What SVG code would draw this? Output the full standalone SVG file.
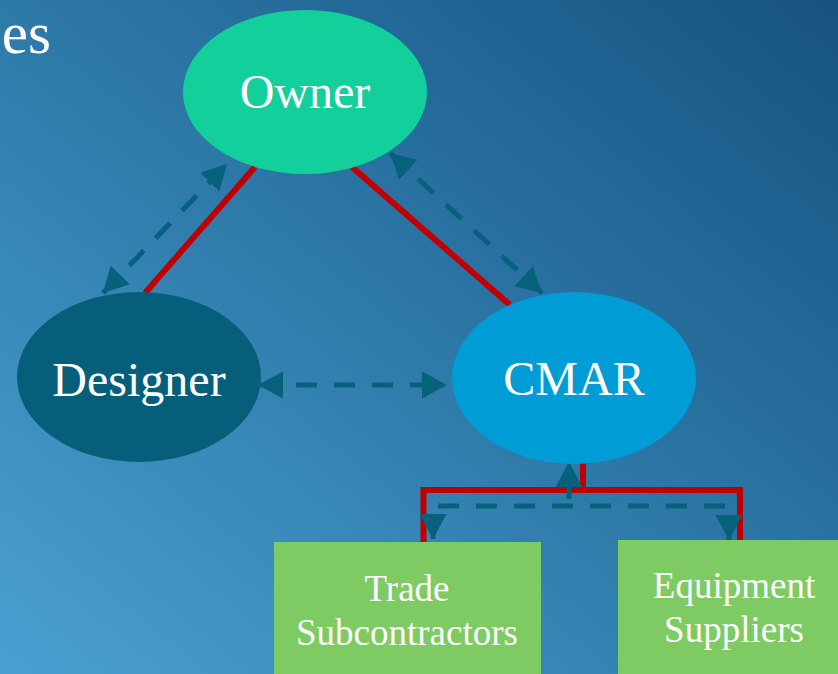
<svg xmlns="http://www.w3.org/2000/svg" width="838" height="674" viewBox="0 0 838 674">
<defs>
<linearGradient id="bg" x1="0" y1="1" x2="1" y2="0">
<stop offset="0" stop-color="#4aa0d3"/>
<stop offset="0.5" stop-color="#2d79a8"/>
<stop offset="1" stop-color="#165281"/>
</linearGradient>
<marker id="ah" markerUnits="userSpaceOnUse" viewBox="0 0 25 27" markerWidth="25" markerHeight="27" refX="25" refY="13.5" orient="auto-start-reverse">
<path d="M0,0 L25,13.5 L0,27 z" fill="#06627a"/>
</marker>
<style>
.red{stroke:#c00000;stroke-width:6;fill:none}
.dash{stroke:#06627a;stroke-width:5;fill:none;stroke-dasharray:21 17;marker-start:url(#ah);marker-end:url(#ah)}
.lbl{font-family:"Liberation Serif","Times New Roman",serif;fill:#fff;text-anchor:middle}
.big{font-size:48px}
.small{font-size:37px}
</style>
</defs>
<rect width="838" height="674" fill="url(#bg)"/>
<text x="51" y="53" font-family="Liberation Serif, serif" font-size="59" fill="#fff" text-anchor="end">es</text>
<g id="connectors">
<line class="red" x1="255" y1="167" x2="145" y2="293"/>
<line class="red" x1="352" y1="167" x2="510" y2="305"/>
<path class="red" d="M583,460 V490 M423.5,542 V490 H740 V542"/>
<line class="dash" x1="103" y1="293" x2="227" y2="164"/>
<line class="dash" x1="390" y1="153" x2="542" y2="293"/>
<line class="dash" x1="258" y1="385" x2="447" y2="385"/>
<path d="M569,499 V462" style="stroke:#06627a;stroke-width:5;fill:none;stroke-dasharray:21 17;marker-end:url(#ah)"/>
<path class="dash" d="M433,539 V506 H729 V540"/>
</g>
<g id="owner">
<ellipse cx="305" cy="92" rx="122" ry="82" fill="#13cf9c"/>
<text class="lbl big" x="305" y="108">Owner</text>
</g>
<g id="designer">
<ellipse cx="139" cy="377" rx="122" ry="85" fill="#065f7a"/>
<text class="lbl big" x="139" y="396">Designer</text>
</g>
<g id="cmar">
<ellipse cx="574" cy="378" rx="122" ry="86" fill="#009cd6"/>
<text class="lbl big" x="574" y="395">CMAR</text>
</g>
<g id="trade">
<rect x="274" y="542" width="267" height="132" fill="#7dcb62"/>
<text class="lbl small" x="407" y="601">Trade</text>
<text class="lbl small" x="407" y="645">Subcontractors</text>
</g>
<g id="equipment">
<rect x="618" y="540" width="220" height="134" fill="#7dcb62"/>
<text class="lbl small" x="734" y="598">Equipment</text>
<text class="lbl small" x="734" y="642">Suppliers</text>
</g>
</svg>
